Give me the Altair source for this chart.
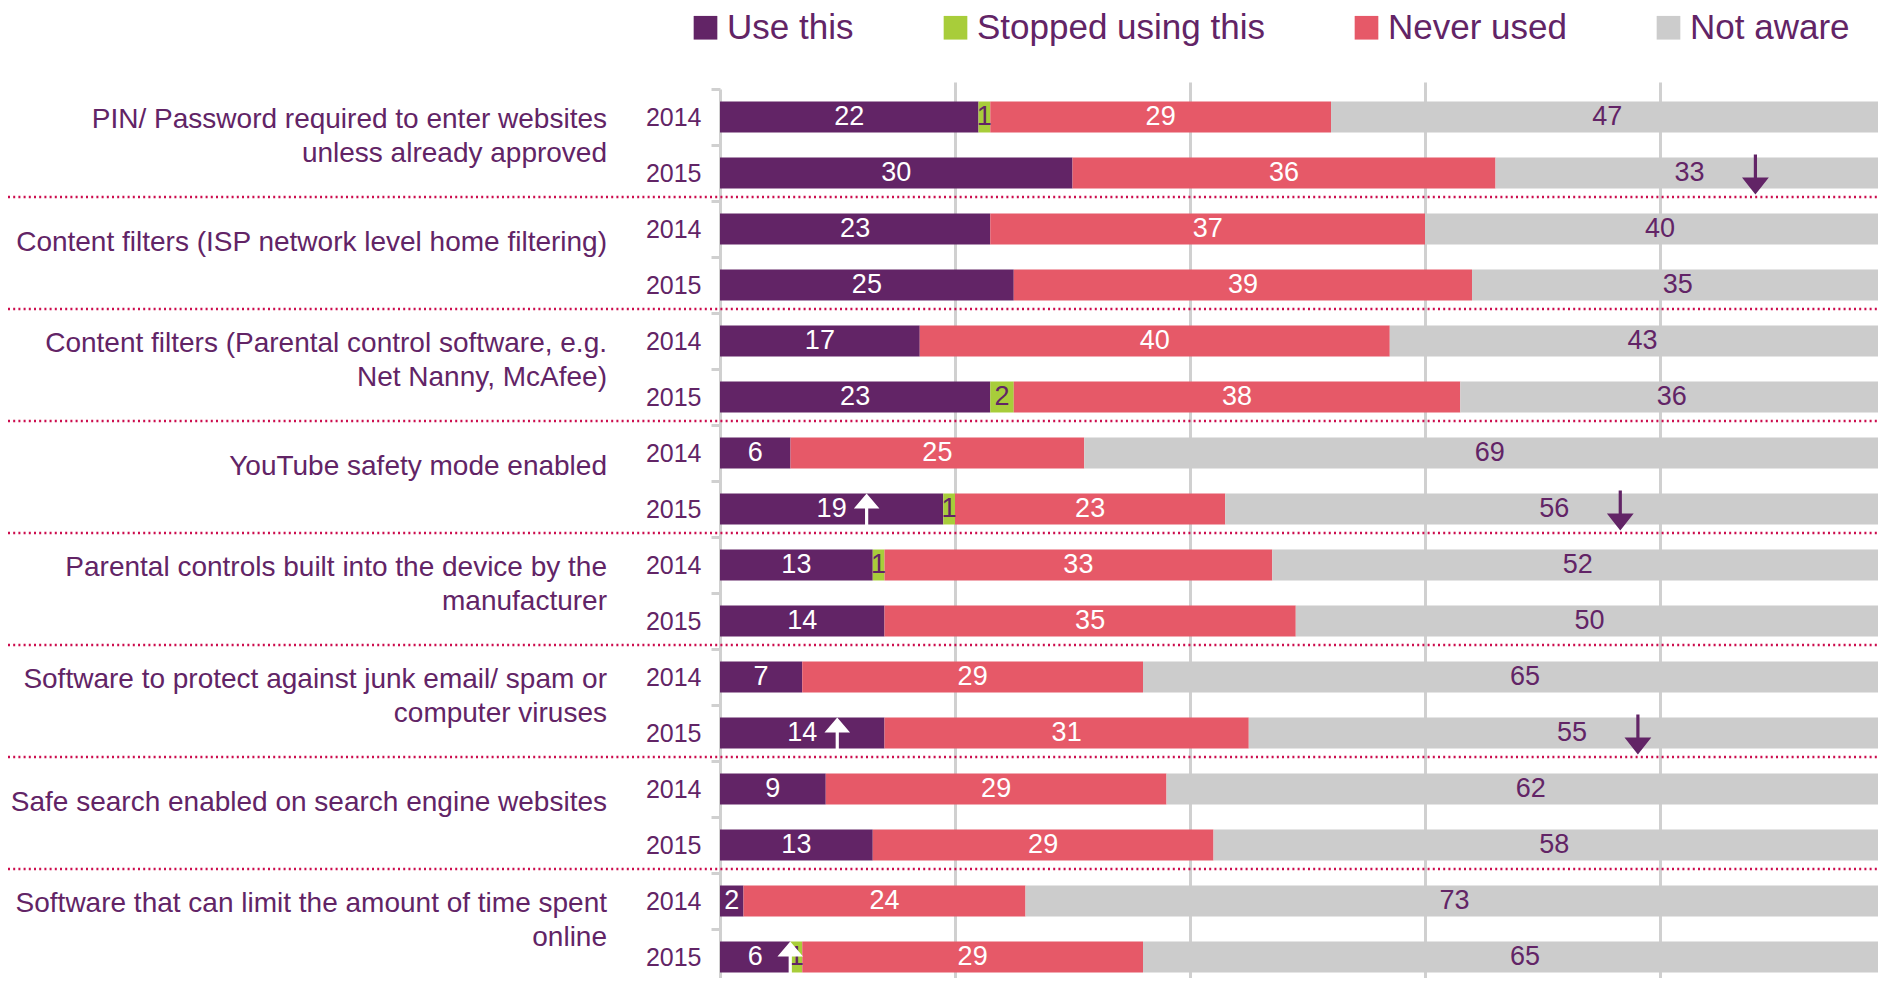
import altair as alt
import pandas as pd

# ---------------- data ----------------
categories = [
    "PIN/ Password required to enter websites\nunless already approved",
    "Content filters (ISP network level home filtering)",
    "Content filters (Parental control software, e.g.\nNet Nanny, McAfee)",
    "YouTube safety mode enabled",
    "Parental controls built into the device by the\nmanufacturer",
    "Software to protect against junk email/ spam or\ncomputer viruses",
    "Safe search enabled on search engine websites",
    "Software that can limit the amount of time spent\nonline",
]
years = ["2014", "2015"]
series = ["Use this", "Stopped using this", "Never used", "Not aware"]

use_this_2014 = [22, 23, 17, 6, 13, 7, 9, 2]
use_this_2015 = [30, 25, 23, 19, 14, 14, 13, 6]
stopped_2014 = [1, 0, 0, 0, 1, 0, 0, 0]
stopped_2015 = [0, 0, 2, 1, 0, 0, 0, 1]
never_2014 = [29, 37, 40, 25, 33, 29, 29, 24]
never_2015 = [36, 39, 38, 23, 35, 31, 29, 29]
not_aware_2014 = [47, 40, 43, 69, 52, 65, 62, 73]
not_aware_2015 = [33, 35, 36, 56, 50, 55, 58, 65]

# significant change 2014 -> 2015 (category indices)
sig_up_use_this_2015 = [3, 5, 7]
sig_down_not_aware_2015 = [0, 3, 5]

# ---------------- styles ----------------
PURPLE = "#622466"
GREEN = "#a8cd3a"
RED = "#e65968"
GREY = "#cccccc"
AXIS_GREY = "#d0d0d0"
SEP = "#cc0d4e"
FONT = "Liberation Sans, Arial, sans-serif"
text_colors = {"Use this": "white", "Stopped using this": PURPLE,
               "Never used": "white", "Not aware": PURPLE}

values = {
    ("Use this", "2014"): use_this_2014, ("Use this", "2015"): use_this_2015,
    ("Stopped using this", "2014"): stopped_2014, ("Stopped using this", "2015"): stopped_2015,
    ("Never used", "2014"): never_2014, ("Never used", "2015"): never_2015,
    ("Not aware", "2014"): not_aware_2014, ("Not aware", "2015"): not_aware_2015,
}

rows = []
keys = []
for i, cat in enumerate(categories):
    for y in years:
        key = f"{i}|{y}"
        keys.append(key)
        for s_i, s in enumerate(series):
            v = values[(s, y)][i]
            sig = ""
            if y == "2015" and s == "Use this" and i in sig_up_use_this_2015:
                sig = "up"
            if y == "2015" and s == "Not aware" and i in sig_down_not_aware_2015:
                sig = "down"
            rows.append(dict(key=key, cat=i, year=y, series=s, sidx=s_i,
                             value=v, tcolor=text_colors[s], sig=sig))
df = pd.DataFrame(rows)
df = df[df["value"] > 0]

cat_df = pd.DataFrame({"key": [f"{i}|2014" for i in range(len(categories))],
                       "label": categories})
sep_df = pd.DataFrame({"key": [f"{i}|2015" for i in range(len(categories) - 1)]})

W, H = 1158, 889
BAND_RANGE = 896   # rows continue slightly past the bottom edge, as in the source
xs = alt.Scale(domain=[0, 98.55], nice=False, zero=False)
ys = alt.Scale(domain=keys, paddingInner=0, paddingOuter=0, range=[0, BAND_RANGE])

x_axis = alt.Axis(values=[20, 40, 60, 80], grid=True, gridColor=AXIS_GREY, gridWidth=3,
                  labels=False, ticks=False, domain=False, title=None)
y_axis = alt.Axis(title=None, labelExpr="split(datum.label, '|')[1]", tickBand="extent",
                  tickSize=9, tickWidth=3, tickColor=AXIS_GREY, domainColor=AXIS_GREY,
                  domainWidth=3, labelFontSize=25, labelColor=PURPLE, labelFont=FONT,
                  labelPadding=10, grid=False)

base = alt.Chart(df).transform_stack(
    stack="value", groupby=["key"], as_=["x0", "x1"],
    sort=[alt.SortField("sidx", order="ascending")]
).transform_calculate(mid="(datum.x0 + datum.x1) / 2")

bars = base.mark_bar(size=31, clip=True).encode(
    y=alt.Y("key:N", scale=ys, axis=y_axis, sort=keys),
    x=alt.X("x0:Q", scale=xs, axis=x_axis),
    x2="x1:Q",
    color=alt.Color("series:N", scale=alt.Scale(domain=series, range=[PURPLE, GREEN, RED, GREY]),
                    legend=alt.Legend(title=None, orient="none", legendX=-32, legendY=-79,
                                      direction="horizontal", symbolType="square",
                                      symbolSize=560, symbolStrokeWidth=0, labelFontSize=35,
                                      labelFont=FONT, labelColor=PURPLE, labelLimit=600,
                                      labelOffset=4, columnPadding=84, padding=0,
                                      symbolOffset=0)),
)

labels = base.mark_text(fontSize=27, font=FONT, baseline="middle", align="center").encode(
    y=alt.Y("key:N", scale=ys, sort=keys),
    x=alt.X("mid:Q", scale=xs),
    text="value:Q",
    color=alt.Color("tcolor:N", scale=None),
)

UP = "M0,-0.775 L0.64,-0.025 L0.08,-0.025 L0.08,1.175 L-0.08,1.175 L-0.08,-0.025 L-0.64,-0.025 Z"
DOWN = "M-0.08,-0.925 L0.08,-0.925 L0.08,0.225 L0.67,0.225 L0,1.075 L-0.67,0.225 L-0.08,0.225 Z"

up_arrows = base.transform_filter("datum.sig == 'up'").mark_point(
    shape=UP, size=1600, filled=True, color="white", strokeWidth=0, opacity=1, xOffset=35
).encode(y=alt.Y("key:N", scale=ys, sort=keys), x=alt.X("mid:Q", scale=xs))

down_arrows = base.transform_filter("datum.sig == 'down'").mark_point(
    shape=DOWN, size=1600, filled=True, color=PURPLE, strokeWidth=0, opacity=1, xOffset=66
).encode(y=alt.Y("key:N", scale=ys, sort=keys), x=alt.X("mid:Q", scale=xs))

cat_base = alt.Chart(cat_df)
cat_one = cat_base.transform_filter("indexof(datum.label, '\\n') < 0").mark_text(
    align="right", baseline="middle", dy=14, fontSize=28,
    color=PURPLE, font=FONT
).encode(y=alt.Y("key:N", scale=ys, sort=keys), x=alt.value(-113), text="label:N")
cat_two = cat_base.transform_filter("indexof(datum.label, '\\n') >= 0").mark_text(
    align="right", baseline="middle", dy=3, fontSize=28, lineHeight=33.6,
    lineBreak="\n", color=PURPLE, font=FONT
).encode(y=alt.Y("key:N", scale=ys, sort=keys), x=alt.value(-113), text="label:N")

seps = alt.Chart(sep_df).mark_rule(
    color=SEP, strokeWidth=2.5, strokeDash=[2, 3.2], yOffset=24
).encode(y=alt.Y("key:N", scale=ys, sort=keys), x=alt.value(-712), x2=alt.value(W))

chart = alt.layer(bars, labels, up_arrows, down_arrows, cat_one, cat_two, seps).properties(
    width=W, height=H,
    padding={"left": 712, "top": 81, "right": 0, "bottom": 0},
    autosize=alt.AutoSizeParams(type="none"),
    background="white",
).configure_view(stroke=None)

chart.save("out.html", embed_options={"renderer": "svg", "actions": False})
